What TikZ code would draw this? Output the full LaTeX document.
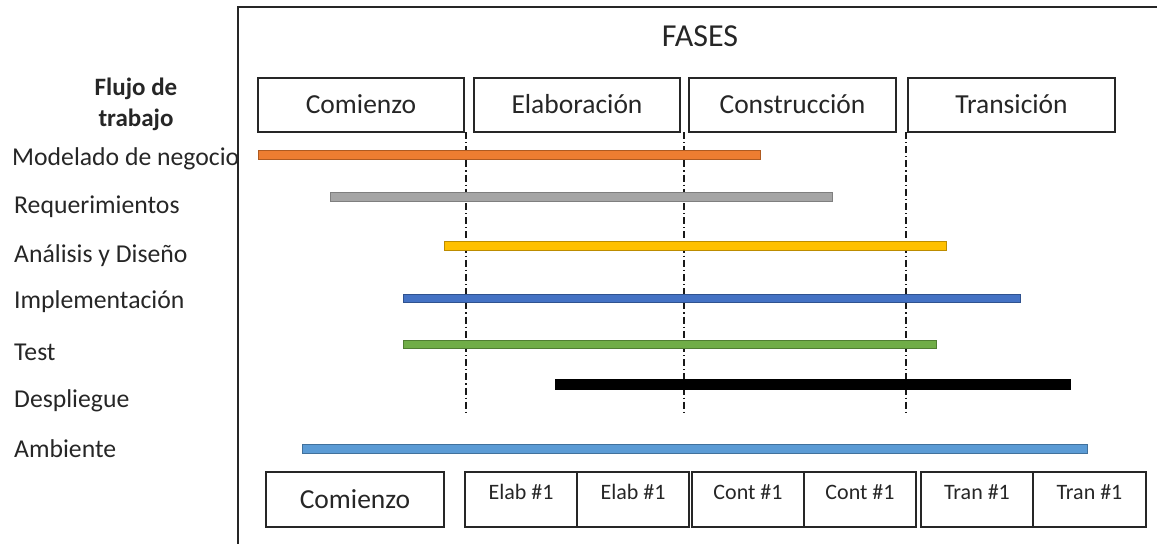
\documentclass[tikz,border=0pt]{standalone}
\usepackage{fontspec}
\setmainfont{Carlito}
\definecolor{txt}{HTML}{262626}
\definecolor{cOrange}{HTML}{ED7D31}\definecolor{dOrange}{HTML}{AE5A21}
\definecolor{cGray}{HTML}{A5A5A5}\definecolor{dGray}{HTML}{7F7F7F}
\definecolor{cYellow}{HTML}{FFC000}\definecolor{dYellow}{HTML}{BC8C00}
\definecolor{cBlue}{HTML}{4472C4}\definecolor{dBlue}{HTML}{2F528F}
\definecolor{cGreen}{HTML}{70AD47}\definecolor{dGreen}{HTML}{507E32}
\definecolor{cLight}{HTML}{5B9BD5}\definecolor{dLight}{HTML}{41719C}
\begin{document}
\begin{tikzpicture}[x=1pt,y=-1pt,
  every node/.style={text=txt},
  phasebox/.style={draw=black!85, line width=1.3pt, inner sep=0pt, minimum height=54pt,
    font=\fontsize{27.5}{30}\selectfont, text height=17.7pt, text depth=0pt},
  iterbox/.style={draw=black!85, line width=1.3pt, inner sep=0pt, minimum height=55pt,
    font=\fontsize{22}{26}\selectfont, text height=6pt, text depth=6pt},
  rowlabel/.style={anchor=base west, inner sep=0pt, font=\fontsize{25.7}{30}\selectfont},
  headlabel/.style={anchor=base, inner sep=0pt, font=\fontsize{25}{30}\selectfont\bfseries},
  bar/.style={line width=0.8pt},
  phaseline/.style={line width=1.1pt, black!90, dash pattern=on 7pt off 3pt on 1.2pt off 3pt}
]
\useasboundingbox (0,0) rectangle (1157,544);
% frame
\draw[line width=2pt, black!85] (1157,7) -- (238,7) -- (238,544);
% title
\node[anchor=base, inner sep=0pt, font=\fontsize{32}{36}\selectfont] (fases) at (700,46) {FASES};
% workflow header
\node[headlabel] (flujoA) at (136,95) {Flujo de};
\node[headlabel] (flujoB) at (136,126) {trabajo};
% phase boxes
\node[phasebox, minimum width=206pt] (p1) at (361,105) {Comienzo};
\node[phasebox, minimum width=206pt] (p2) at (577,105) {Elaboración};
\node[phasebox, minimum width=207pt] (p3) at (792.5,105) {Construcción};
\node[phasebox, minimum width=207pt] (p4) at (1011.5,105) {Transición};
% phase separators
\coordinate (s1t) at (466,132); \coordinate (s1b) at (466,413);
\coordinate (s2t) at (684,132); \coordinate (s2b) at (684,413);
\coordinate (s3t) at (906,132); \coordinate (s3b) at (906,413);
\draw[phaseline] (s1t) -- (s1b);
\draw[phaseline] (s2t) -- (s2b);
\draw[phaseline] (s3t) -- (s3b);
% row labels
\node[rowlabel] (l1) at (12,165) {Modelado de negocio};
\node[rowlabel] (l2) at (14,213) {Requerimientos};
\node[rowlabel] (l3) at (14,262) {Análisis y Diseño};
\node[rowlabel] (l4) at (14,308) {Implementación};
\node[rowlabel] (l5) at (14,360) {Test};
\node[rowlabel] (l6) at (14,407) {Despliegue};
\node[rowlabel] (l7) at (14,457) {Ambiente};
% bars
\filldraw[bar, fill=cOrange, draw=dOrange] (258,150) rectangle (760,159);
\filldraw[bar, fill=cGray, draw=dGray] (330,192) rectangle (832,201);
\filldraw[bar, fill=cYellow, draw=dYellow] (444,241) rectangle (946,250);
\filldraw[bar, fill=cBlue, draw=dBlue] (403,294) rectangle (1020,302);
\filldraw[bar, fill=cGreen, draw=dGreen] (403,340) rectangle (936,348);
\filldraw[bar, fill=black, draw=black] (555,379.5) rectangle (1070,389);
\filldraw[bar, fill=cLight, draw=dLight] (302,444) rectangle (1087,453);
% iteration boxes
\node[phasebox, minimum width=178pt, minimum height=55pt] (i0) at (355,499.5) {Comienzo};
\node[iterbox, minimum width=112pt] (i1) at (521,499.5) {Elab \#1};
\node[iterbox, minimum width=112pt] (i2) at (633,499.5) {Elab \#1};
\node[iterbox, minimum width=112pt] (i3) at (748,499.5) {Cont \#1};
\node[iterbox, minimum width=112pt] (i4) at (860,499.5) {Cont \#1};
\node[iterbox, minimum width=112pt] (i5) at (977,499.5) {Tran \#1};
\node[iterbox, minimum width=113pt] (i6) at (1089.5,499.5) {Tran \#1};
\end{tikzpicture}
\end{document}
